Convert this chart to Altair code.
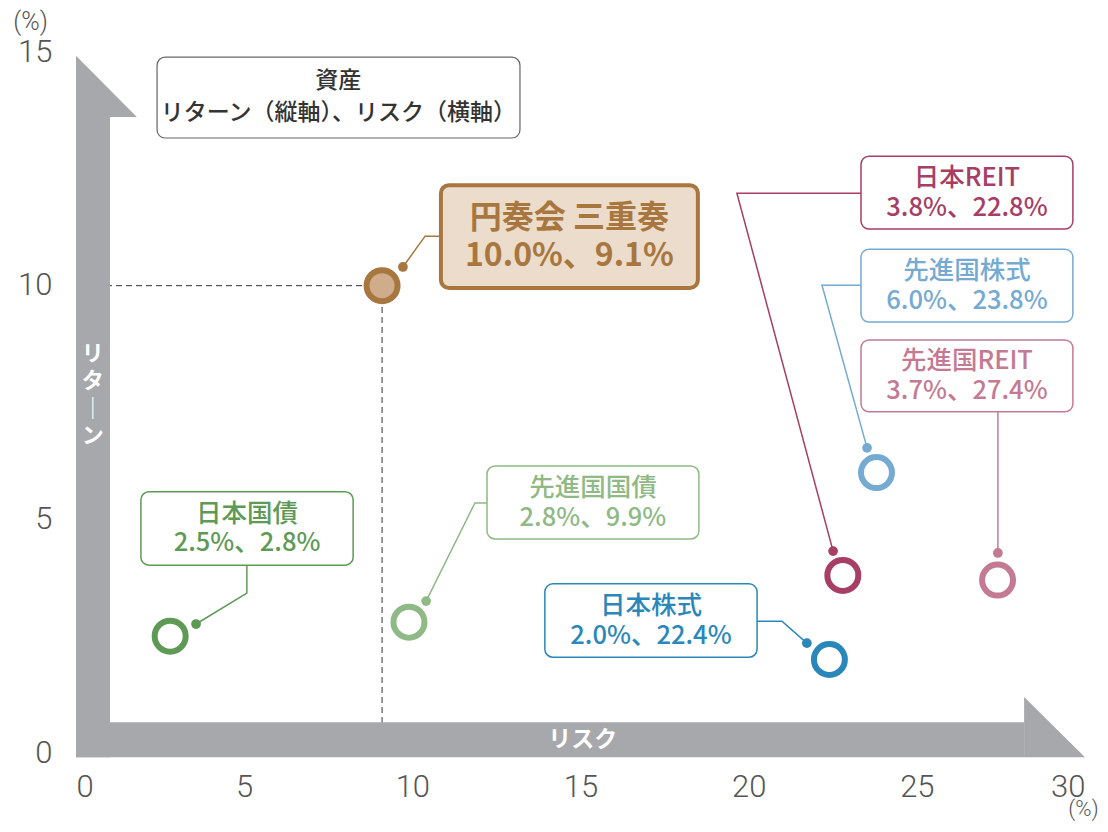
import altair as alt
import pandas as pd

# ---- data ----
names = ["日本国債", "先進国国債", "円奏会 三重奏", "日本株式", "日本REIT", "先進国株式", "先進国REIT"]
returns = [2.5, 2.8, 10.0, 2.0, 3.8, 6.0, 3.7]      # 縦軸 リターン(%)
risks = [2.8, 9.9, 9.1, 22.4, 22.8, 23.8, 27.4]     # 横軸 リスク(%)
colors = ["#5e9a56", "#8fb985", "#a8763f", "#2a87b9", "#a63e66", "#75aad2", "#c47a93"]
x_ticks = [0, 5, 10, 15, 20, 25, 30]
y_ticks = [0, 5, 10, 15]
title_lines = ["資産", "リターン（縦軸）、リスク（横軸）"]
axis_words = ["リ", "タ", "｜", "ン"]

# ---- annotation layout (data units) ----
box_x1 = [1.93, 12.22, 10.85, 13.94, 23.34, 23.34, 23.34]
box_x2 = [8.24, 18.52, 18.49, 20.25, 29.64, 29.64, 29.64]
box_y1 = [4.02, 4.58, 9.95, 2.05, 11.21, 9.22, 7.30]
box_y2 = [5.59, 6.14, 12.15, 3.62, 12.77, 10.78, 8.84]
leaders = [
    [(5.08, 4.02), (5.08, 3.42), (3.57, 2.76)],
    [(12.22, 5.35), (11.86, 5.35), (10.41, 3.25)],
    [(10.85, 11.06), (10.38, 11.06), (9.72, 10.40)],
    [(20.25, 2.82), (20.99, 2.82), (21.73, 2.35)],
    [(23.34, 11.98), (19.65, 11.98), (22.51, 4.32)],
    [(23.34, 10.01), (22.18, 10.01), (23.52, 6.53)],
    [(27.41, 7.30), (27.41, 4.28)],
]

FONT = "Noto Sans CJK JP"
NUMFONT = "Roboto"

pts = pd.DataFrame({"name": names, "ret": returns, "risk": risks})
pts["vals"] = [f"{r:.1f}%、{k:.1f}%" for r, k in zip(returns, risks)]
pts["bx1"], pts["bx2"], pts["by1"], pts["by2"] = box_x1, box_x2, box_y1, box_y2
pts["cx"] = (pts["bx1"] + pts["bx2"]) / 2
pts["cy"] = (pts["by1"] + pts["by2"]) / 2

lead_rows, dot_rows = [], []
for n, path in zip(names, leaders):
    for i, (lx, ly) in enumerate(path):
        lead_rows.append({"name": n, "o": i, "x": lx, "y": ly})
    dot_rows.append({"name": n, "x": path[-1][0], "y": path[-1][1]})
lead = pd.DataFrame(lead_rows)
dots = pd.DataFrame(dot_rows)

main = "円奏会 三重奏"
color_scale = alt.Scale(domain=names, range=colors)
fill_scale = alt.Scale(domain=names, range=["white" if n != main else "#cfad8c" for n in names])

xs = alt.Scale(domain=[0, 30], nice=False, zero=False)
ys = alt.Scale(domain=[0, 15], nice=False, zero=False)

x_axis = alt.Axis(values=x_ticks, domain=False, ticks=False, tickSize=0, grid=False,
                  labelFont=NUMFONT, labelFontWeight=300, labelFontSize=31, labelColor="#555555",
                  labelPadding=19,
                  title="(%)", titleFont=NUMFONT, titleFontSize=22, titleFontWeight=300,
                  titleColor="#555555", titleX=1007, titleY=55, titleAngle=0,
                  titleAlign="center", titleBaseline="middle")
y_axis = alt.Axis(values=y_ticks, domain=False, ticks=False, tickSize=0, grid=False,
                  labelFont=NUMFONT, labelFontWeight=300, labelFontSize=31, labelColor="#555555",
                  labelPadding=24, labelBaseline="middle",
                  title="(%)", titleFont=NUMFONT, titleFontSize=25, titleFontWeight=300,
                  titleColor="#555555", titleX=-46, titleY=-31, titleAngle=0,
                  titleAlign="center", titleBaseline="middle")

# dashed guide lines for main fund
mrow = pts[pts["name"] == main]
guide_h = alt.Chart(mrow).mark_rule(strokeDash=[6, 4], color="#333333", strokeWidth=1).encode(
    x=alt.X("x0:Q", scale=xs, axis=x_axis), x2="risk:Q",
    y=alt.Y("ret:Q", scale=ys, axis=y_axis)
).transform_calculate(x0="0")
guide_v = alt.Chart(mrow).mark_rule(strokeDash=[6, 4], color="#333333", strokeWidth=1).encode(
    x=alt.X("risk:Q", scale=xs), y=alt.Y("y0:Q", scale=ys), y2="ret:Q"
).transform_calculate(y0="0")

# grey arrows
bars = pd.DataFrame({"x": [0, 0], "x2": [1.01, 28.19], "y": [-0.09, -0.09], "y2": [13.61, 0.66]})
bar_layer = alt.Chart(bars).mark_rect(color="#a7a8ab").encode(
    x=alt.X("x:Q", scale=xs), x2="x2:Q", y=alt.Y("y:Q", scale=ys), y2="y2:Q")
tris = pd.DataFrame({"g": ["a", "a", "b", "b"], "x": [0, 1.81, 28.19, 30.0],
                     "y": [14.92, 13.61, 1.20, -0.09], "y2": [13.61, 13.61, -0.09, -0.09]})
tri_layer = alt.Chart(tris).mark_area(color="#a7a8ab", opacity=1).encode(
    x=alt.X("x:Q", scale=xs), y=alt.Y("y:Q", scale=ys), y2="y2:Q", detail="g:N")

vlbl = pd.DataFrame({"t": axis_words, "x": [0.5] * 4, "y": [8.54, 7.96, 7.37, 6.79]})
vlbl_layer = alt.Chart(vlbl).mark_text(font=FONT, fontSize=22, fontWeight="bold", color="white",
                                       baseline="middle").encode(
    x=alt.X("x:Q", scale=xs), y=alt.Y("y:Q", scale=ys), text="t:N")
hlbl = pd.DataFrame({"t": ["リスク"], "x": [15.07], "y": [0.27]})
hlbl_layer = alt.Chart(hlbl).mark_text(font=FONT, fontSize=23, fontWeight="bold", color="white",
                                       baseline="middle").encode(
    x=alt.X("x:Q", scale=xs), y=alt.Y("y:Q", scale=ys), text="t:N")

# leaders
lead_layer = alt.Chart(lead).mark_line(strokeWidth=1.5).encode(
    x=alt.X("x:Q", scale=xs), y=alt.Y("y:Q", scale=ys), order="o:Q",
    detail="name:N", color=alt.Color("name:N", scale=color_scale, legend=None))
dot_layer = alt.Chart(dots).mark_circle(size=95, opacity=1).encode(
    x=alt.X("x:Q", scale=xs), y=alt.Y("y:Q", scale=ys),
    color=alt.Color("name:N", scale=color_scale, legend=None))

others = pts[pts["name"] != main]
box_layer = alt.Chart(others).mark_rect(cornerRadius=8, fill="white", strokeWidth=1.5).encode(
    x=alt.X("bx1:Q", scale=xs), x2="bx2:Q", y=alt.Y("by1:Q", scale=ys), y2="by2:Q",
    stroke=alt.Stroke("name:N", scale=color_scale, legend=None))
box_main = alt.Chart(mrow).mark_rect(cornerRadius=8, fill="#ecdccb", stroke="#a8763f",
                                     strokeWidth=4).encode(
    x=alt.X("bx1:Q", scale=xs), x2="bx2:Q", y=alt.Y("by1:Q", scale=ys), y2="by2:Q")


def box_text(df, field, dy, size, weight, color=None):
    m = alt.Chart(df).mark_text(font=FONT, fontSize=size, fontWeight=weight, baseline="middle",
                                dy=dy, **({"color": color} if color else {}))
    enc = dict(x=alt.X("cx:Q", scale=xs), y=alt.Y("cy:Q", scale=ys), text=f"{field}:N")
    if not color:
        enc["color"] = alt.Color("name:N", scale=color_scale, legend=None)
    return m.encode(**enc)


t1 = box_text(others, "name", -14.5, 25.5, 500)
t2 = box_text(others, "vals", 15, 25.5, 500)
m1 = box_text(mrow, "name", -18.5, 32, "bold", "#a8763f")
m2 = box_text(mrow, "vals", 19, 32, "bold", "#a8763f")

rings = alt.Chart(pts).mark_point(shape="circle", size=960, strokeWidth=6, opacity=1,
                                  filled=False, fillOpacity=1).encode(
    x=alt.X("risk:Q", scale=xs), y=alt.Y("ret:Q", scale=ys),
    stroke=alt.Stroke("name:N", scale=color_scale, legend=None),
    fill=alt.Fill("name:N", scale=fill_scale, legend=None))

# title box
tb = pd.DataFrame({"l1": [title_lines[0]], "l2": [title_lines[1]], "x1": [2.41], "x2": [13.20],
                   "y1": [13.16], "y2": [14.89], "cx": [7.80], "cy": [14.03]})
tbox = alt.Chart(tb).mark_rect(cornerRadius=8, fill="white", stroke="#666666", strokeWidth=1.2).encode(
    x=alt.X("x1:Q", scale=xs), x2="x2:Q", y=alt.Y("y1:Q", scale=ys), y2="y2:Q")
tt1 = box_text(tb, "l1", -16.5, 23, 500, "#333333")
tt2 = box_text(tb, "l2", 16, 23, 500, "#333333")

chart = alt.layer(
    guide_h, guide_v, bar_layer, tri_layer, vlbl_layer, hlbl_layer,
    lead_layer, box_layer, box_main, t1, t2, m1, m2, dot_layer, rings,
    tbox, tt1, tt2
).resolve_scale(color="shared", stroke="shared", fill="independent").properties(
    width=1009, height=701,
    padding={"left": 68, "top": 44, "right": 15, "bottom": 69},
    autosize=alt.AutoSizeParams(type="none"),
).configure_view(stroke=None)

chart.save("out.html", embed_options={"renderer": "svg", "actions": False})
